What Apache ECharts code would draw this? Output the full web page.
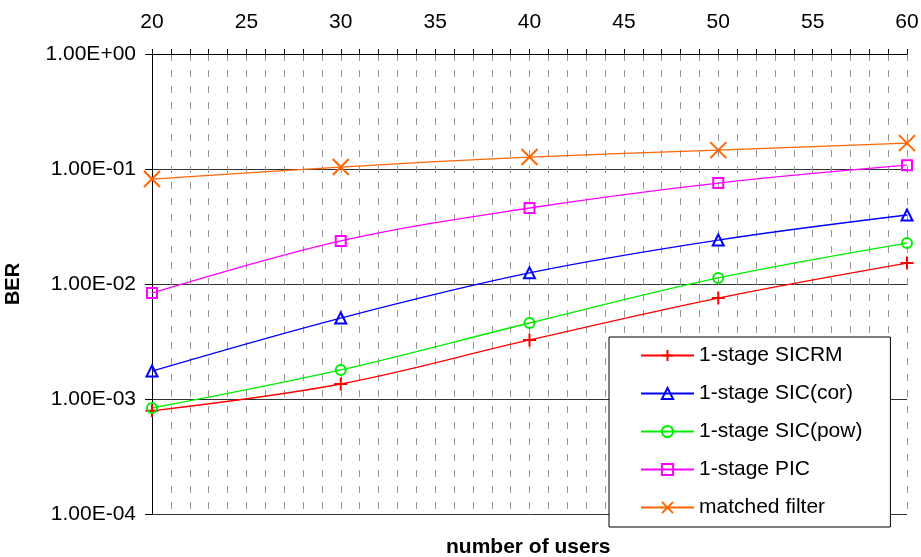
<!DOCTYPE html>
<html>
<head>
<meta charset="utf-8">
<script src="https://cdn.jsdelivr.net/npm/echarts@6/dist/echarts.min.js"></script>
<style>
  html, body { margin: 0; padding: 0; background: #fff; }
  #chart { width: 921px; height: 557px; }
</style>
</head>
<body>
<div id="chart"></div>
<script>
// number of users (x, top axis)
const users = [20, 30, 40, 50, 60];

// BER values
const sicrm   = [0.00079, 0.00135, 0.00326, 0.00755, 0.0152];
const sicCor  = [0.00175, 0.00506, 0.0125, 0.0241, 0.0398];
const sicPow  = [0.000835, 0.00179, 0.00458, 0.0113, 0.0227];
const pic     = [0.00835, 0.0237, 0.0458, 0.0755, 0.108];
const matched = [0.0818, 0.104, 0.127, 0.146, 0.168];

const seriesNames = ['1-stage SICRM', '1-stage SIC(cor)', '1-stage SIC(pow)', '1-stage PIC', 'matched filter'];

const FONT = '"Liberation Sans", Arial, sans-serif';

const PLUS = 'path://M5,0L5,10M0,5L10,5';
const CROSS = 'path://M0,0L10,10M10,0L0,10';

function pairs(vals) {
    return users.map((u, i) => [u, vals[i]]);
}

function mkSeries(name, vals, color, symbol, size) {
    return {
        name: name,
        type: 'line',
        data: pairs(vals),
        smooth: 0.35,
        color: color,
        symbol: symbol,
        symbolSize: size,
        lineStyle: { color: color, width: 1.3 },
        itemStyle: { color: 'rgba(255,255,255,0)', borderColor: color, borderWidth: 2 },
        emphasis: { disabled: true },
        z: 3
    };
}

function fmtExp(v) {
    const e = Math.round(Math.log10(v));
    const sign = e < 0 ? '-' : '+';
    const a = Math.abs(e);
    return '1.00E' + sign + (a < 10 ? '0' + a : a);
}

const myChart = echarts.init(document.getElementById('chart'));

const option = {
    animation: false,
    backgroundColor: '#fff',
    grid: { left: 152, right: 14, top: 54, bottom: 43, containLabel: false, outerBoundsMode: 'none' },
    xAxis: {
        type: 'value',
        position: 'top',
        min: 20,
        max: 60,
        interval: 5,
        axisLine: { show: true, lineStyle: { color: '#000', width: 1 } },
        axisTick: { show: true, length: 5, lineStyle: { color: '#000' } },
        minorTick: { show: true, splitNumber: 5, length: 5, lineStyle: { color: '#000' } },
        axisLabel: { fontFamily: FONT, fontSize: 21, color: '#000', margin: 21 },
        splitLine: { show: true, lineStyle: { color: '#999', type: [7, 9], width: 1 } },
        minorSplitLine: { show: true, lineStyle: { color: '#999', type: [7, 9], width: 1 } }
    },
    yAxis: {
        type: 'log',
        logBase: 10,
        min: 1e-4,
        max: 1,
        name: 'BER',
        nameLocation: 'middle',
        nameGap: 129,
        nameTextStyle: { fontFamily: FONT, fontSize: 20, fontWeight: 'bold', color: '#000' },
        axisLine: { show: true, lineStyle: { color: '#000', width: 1 } },
        axisTick: { show: true, length: 7, lineStyle: { color: '#000' } },
        axisLabel: { fontFamily: FONT, fontSize: 21, color: '#000', margin: 16, formatter: fmtExp },
        splitLine: { show: true, lineStyle: { color: '#333', width: 1 } }
    },
    legend: {
        orient: 'vertical',
        left: 609,
        top: 337,
        height: 210,
        data: seriesNames,
        backgroundColor: '#fff',
        borderColor: '#000',
        borderWidth: 1,
        padding: [8, 28, 9, 31],
        itemWidth: 53,
        itemHeight: 14,
        itemGap: 17,
        textStyle: { fontFamily: FONT, fontSize: 21, lineHeight: 21, color: '#000' }
    },
    graphic: [{
        type: 'text',
        left: 446,
        top: 537,
        style: {
            text: 'number of users',
            font: 'bold 21px ' + FONT,
            fill: '#000'
        }
    }],
    series: [
        mkSeries(seriesNames[0], sicrm, '#ff0000', PLUS, 13),
        mkSeries(seriesNames[1], sicCor, '#0000ff', 'triangle', 11),
        mkSeries(seriesNames[2], sicPow, '#00ee00', 'circle', 10),
        mkSeries(seriesNames[3], pic, '#ff00ff', 'rect', 10),
        mkSeries(seriesNames[4], matched, '#ff6600', CROSS, 16)
    ]
};

myChart.setOption(option);
</script>
</body>
</html>
